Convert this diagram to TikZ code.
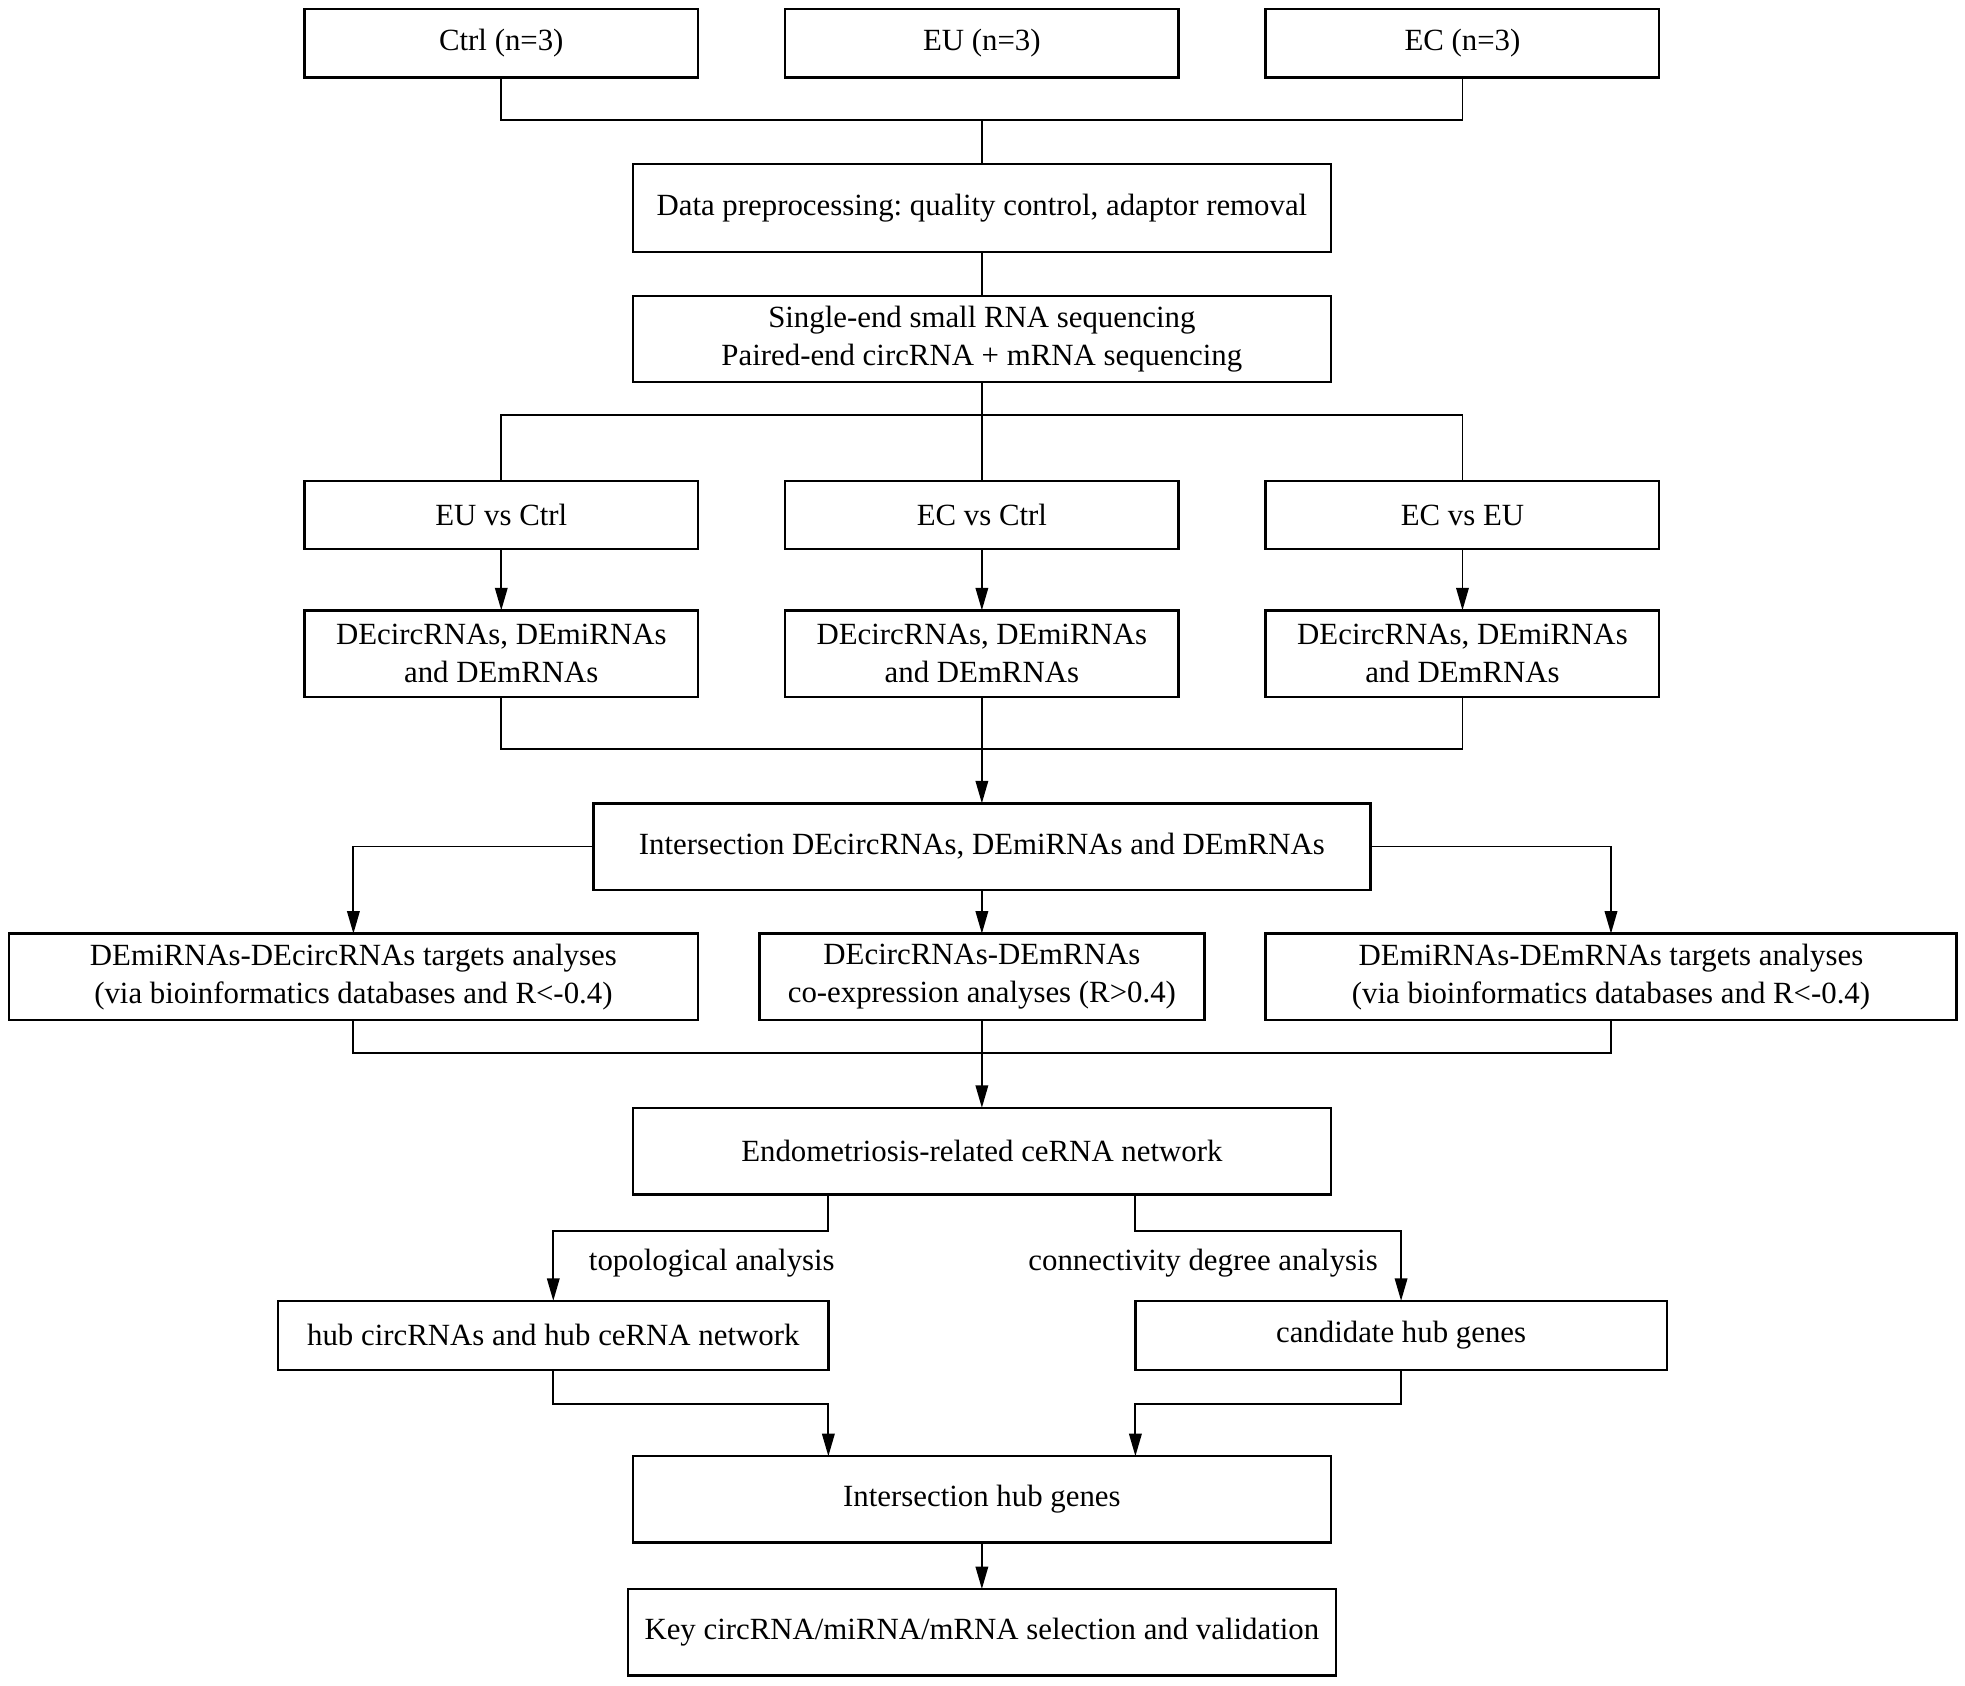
\documentclass[tikz,border=0pt]{standalone}
\usepackage{fontspec}
\setmainfont{Liberation Serif}
\usetikzlibrary{arrows.meta}
\frenchspacing
\begin{document}
\begin{tikzpicture}[x=0.5pt,y=-0.5pt,
  box/.style={draw, line width=1pt, inner sep=0pt, outer sep=0pt, align=center,
    font=\fontsize{12.3}{15}\selectfont\frenchspacing},
  lbl/.style={inner sep=0pt, font=\fontsize{12.3}{15}\selectfont},
  conn/.style={line width=0.75pt},
  arr/.style={conn, -{Triangle[length=9pt,width=5pt]}}]
\useasboundingbox (0,0) rectangle (1568,1345);
% row 1
\node[box, minimum width=157pt, minimum height=27.5pt] (ctrl) at (400,34.5) {Ctrl (n=3)};
\node[box, minimum width=157pt, minimum height=27.5pt] (eu) at (783.5,34.5) {EU (n=3)};
\node[box, minimum width=157pt, minimum height=27.5pt] (ec) at (1167,34.5) {EC (n=3)};
\node[box, minimum width=278.5pt, minimum height=35pt] (data) at (783.5,166) {Data preprocessing: quality control, adaptor removal};
\node[box, minimum width=278.5pt, minimum height=34.5pt] (seq) at (783.5,270.5) {Single-end small RNA sequencing\\Paired-end circRNA + mRNA sequencing};
% row 3
\node[box, minimum width=157pt, minimum height=27pt] (c1) at (400,411) {EU vs Ctrl};
\node[box, minimum width=157pt, minimum height=27pt] (c2) at (783.5,411) {EC vs Ctrl};
\node[box, minimum width=157pt, minimum height=27pt] (c3) at (1167,411) {EC vs EU};
% row 4
\node[box, minimum width=157pt, minimum height=34.5pt] (d1) at (400,521.5) {DEcircRNAs, DEmiRNAs\\and DEmRNAs};
\node[box, minimum width=157pt, minimum height=34.5pt] (d2) at (783.5,521.5) {DEcircRNAs, DEmiRNAs\\and DEmRNAs};
\node[box, minimum width=157pt, minimum height=34.5pt] (d3) at (1167,521.5) {DEcircRNAs, DEmiRNAs\\and DEmRNAs};
\node[box, minimum width=310pt, minimum height=34.5pt] (inter) at (783.5,675.5) {Intersection DEcircRNAs, DEmiRNAs and DEmRNAs};
% row 5
\node[box, minimum width=275pt, minimum height=34.5pt] (t1) at (282,779.5) {DEmiRNAs-DEcircRNAs targets analyses\\(via bioinformatics databases and R<-0.4)};
\node[box, minimum width=177.5pt, minimum height=34.5pt] (t2) at (783.5,779.5) {DEcircRNAs-DEmRNAs\\co-expression analyses (R>0.4)};
\node[box, minimum width=275.5pt, minimum height=34.5pt] (t3) at (1285.5,779.5) {DEmiRNAs-DEmRNAs targets analyses\\(via bioinformatics databases and R<-0.4)};
\node[box, minimum width=278.5pt, minimum height=34.5pt] (cerna) at (783.5,918.5) {Endometriosis-related ceRNA network};
\node[box, minimum width=219.5pt, minimum height=27.5pt] (hub) at (441.5,1065.5) {hub circRNAs and hub ceRNA network};
\node[box, minimum width=212pt, minimum height=27.5pt] (cand) at (1118,1065.5) {candidate hub genes};
\node[lbl] (topo) at (568,1008) {topological analysis};
\node[lbl] (conn) at (960,1008) {connectivity degree analysis};
\node[box, minimum width=278.5pt, minimum height=34.5pt] (ihg) at (783.5,1196.5) {Intersection hub genes};
\node[box, minimum width=282.5pt, minimum height=34.5pt] (key) at (783.5,1302.5) {Key circRNA/miRNA/mRNA selection and validation};
% connectors
\coordinate (j1) at (783.5,96);
\draw[conn] (ctrl.south) |- (j1) -| (ec.south);
\draw[conn] (j1) -- (data.north);
\draw[conn] (data.south) -- (seq.north);
\coordinate (j2) at (783.5,331);
\draw[conn] (seq.south) -- (j2);
\draw[conn] (c1.north) |- (j2) -| (c3.north);
\draw[conn] (j2) -- (c2.north);
\draw[arr] (c1.south) -- (d1.north);
\draw[arr] (c2.south) -- (d2.north);
\draw[arr] (c3.south) -- (d3.north);
\coordinate (j3) at (783.5,598);
\draw[conn] (d1.south) |- (j3) -| (d3.south);
\draw[arr] (d2.south) -- (inter.north);
\draw[arr] (inter.west) -| (t1.north);
\draw[arr] (inter.east) -| (t3.north);
\draw[arr] (inter.south) -- (t2.north);
\coordinate (j4) at (783.5,840);
\draw[conn] (t1.south) |- (j4) -| (t3.south);
\draw[arr] (t2.south) -- (cerna.north);
\draw[arr] (cerna.south -| hub.east) -- ++(0,29) -| (hub.north);
\draw[arr] (cerna.south -| cand.west) -- ++(0,29) -| (cand.north);
\draw[arr] (hub.south) -- ++(0,27) -| (ihg.north -| hub.east);
\draw[arr] (cand.south) -- ++(0,27) -| (ihg.north -| cand.west);
\draw[arr] (ihg.south) -- (key.north);
\end{tikzpicture}
\end{document}
